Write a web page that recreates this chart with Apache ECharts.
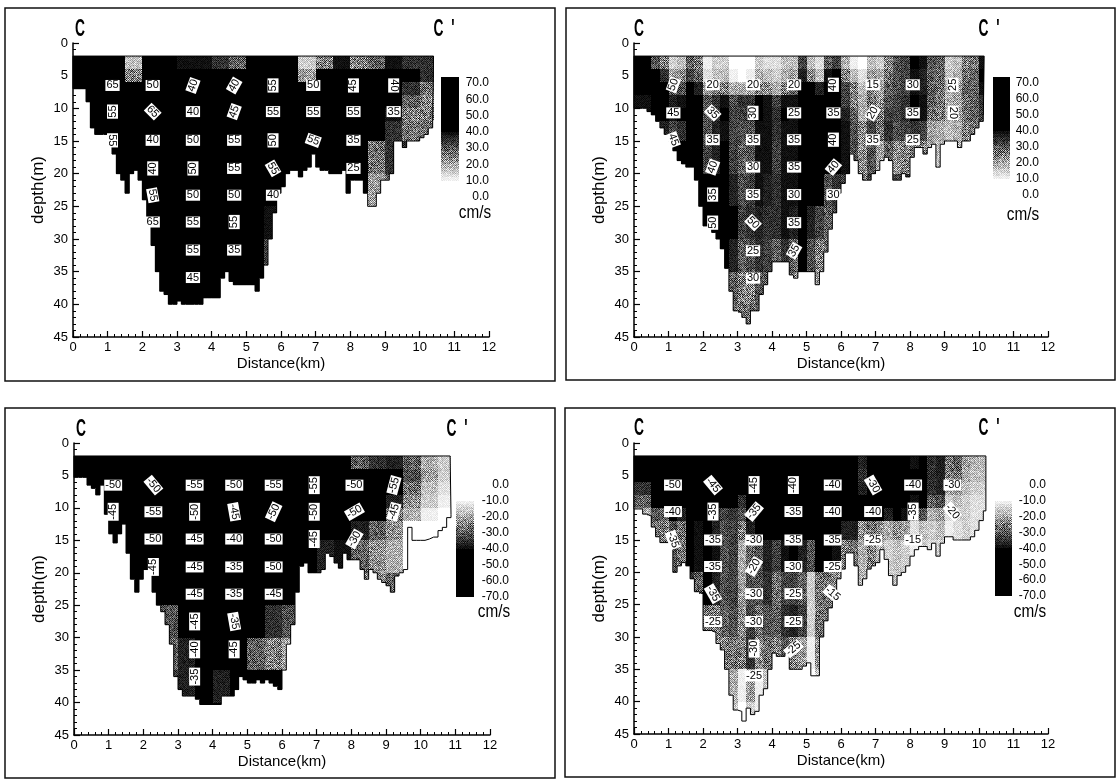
<!DOCTYPE html>
<html><head><meta charset="utf-8">
<style>html,body{margin:0;padding:0;background:#fff}#c{width:1118px;height:780px}</style>
<script src="https://cdn.jsdelivr.net/npm/echarts@6/dist/echarts.min.js"></script>
</head><body><div id="c"></div>
<script>
// ---------- data ----------
const columnStep = 0.125;               // km per bottom sample
const cellStep = 0.5;                   // km per speed cell
const streakStep = 0.25;                // km per vertical streak sample
const rowEdges = [2,4,6,8,10,12,15,20,25,30,35,40,45];  // m

const endA = 10.4, endB = 10.15, endC = 10.85, endD = 10.2;

const bottomA = [7,7,7,9,13,14,14,14, 14,17,20,21,23,20,19.5,21, 24,27,31,35,38,38.5,40,40, 39.5,40,40,40,40,40,39,39,
 39,39,36,35,36.5,37,37,37, 37,37,38,36,34,30,26,23, 22,20,19.5,19.5,20.5,19.5,19,17, 19,19.5,19.5,20,20,20,19.5,23,
 21,21,21,23,25,25,23,21, 21,20,15,15,16,15,15,15, 14.5,14,13,12];
const bottomB = [10,10,10,10.5,11,12,13,14, 15,16.5,18,18.5,19,19,21,25, 28,28,29,30,31.5,34.5,38,41, 41.3,42,43,41,41,38.5,37,35,
 33.5,33.5,33.5,33.5,35.5,36,35,35, 35,35,37,35,32,28.5,26,23, 21.5,20,17,18,20,21,21,20, 19.5,18,17.5,18,21,21,20,20.5,
 17.5,16,16,17,16,15.5,19,15.5, 15,15,15,16,15,15,14,13, 12,11];
const bottomC = [5.3,5.3,5.3,6.5,7,8,6.5,11, 14,15.4,14,12.5,17,21,23,21, 19.5,19.3,23,25,26,28,31,36, 38,39,39,39,39.5,40.3,40.3,40.3,
 40.3,40.3,39,39,39,38,36,36.5, 37,37,36.5,37,36.5,37,37.5,38, 35,31,28,23,19,18.5,20,20, 20,19.5,17,17.5,18.5,19.3,17,18,
 18,18,19.5,21,19.5,20,21,21.5, 22,23,20.5,20,19.5,13,15,15, 15,14.8,14.5,14.5,13.5,13,11.5,11];
const bottomD = [10.2,10.2,11,11.3,13,14.5,15.4,15.4, 15.4,20,19,18.5,19,21,23,23.3, 29,29,29.3,31,32,35,39,41.3, 41.5,43,41,42,41.5,39,38,35,
 32.5,33,33,32.5,35,35,35,34.5, 34,36,36,30,27.5,25.5,23.5,21, 19.5,17,17,19,22,21,19.5,19, 18.5,16.5,18,20.5,22,20.5,20,19,
 17.5,16.5,16,16,16.5,15.5,17.5,15.5, 14.5,14.5,15,15,15,15,14.5,13.5, 12,10.5];

// speed cells (cm/s): one row per depth band, one value per half km
const speedA = [
 [60,60,60,18,50,45,40,40,35,30,45,60,50,15,25,40,25,30,40,35,35],
 [60,60,60,26,60,60,55,60,45,50,60,60,60,22,45,55,55,45,60,45,35],
 [60,60,60,60,60,60,60,60,60,60,60,60,60,60,60,60,60,60,60,35,28],
 [60,60,60,60,60,60,60,60,60,60,60,60,60,60,60,60,60,60,60,30,25],
 [60,60,60,60,60,60,60,60,60,60,60,60,60,60,60,60,60,60,40,25,25],
 [60,60,60,60,60,60,60,60,60,60,60,60,60,60,60,60,60,60,35,28,28],
 [60,60,60,60,60,60,60,60,60,60,60,60,60,60,60,60,45,28,35,35,35],
 [60,60,60,60,60,60,60,60,60,60,60,55,60,60,60,60,45,22,30,30,30],
 [60,60,60,60,60,60,60,60,60,60,60,40,40,40,40,40,40,40,40,40,40],
 [60,60,60,60,60,60,60,60,60,60,60,34,34,34,34,34,34,34,34,34,34],
 [60,60,60,60,60,60,60,60,60,60,45,30,30,30,30,30,30,30,30,30,30],
 [60,60,60,60,60,60,60,60,60,60,60,60,60,60,60,60,60,60,60,60,60]];
const speedB = [
 [45,28,16,20,14,12,12,12,15,18,15,30,18,16,18,30,36,34,20,24,36],
 [50,38,22,24,16,14,15,16,17,22,20,40,24,20,22,30,34,32,22,26,38],
 [45,50,30,32,25,22,25,22,22,30,40,55,32,24,24,30,34,32,24,27,36],
 [40,55,38,36,34,35,40,38,36,40,50,60,32,26,27,32,36,32,24,26,32],
 [40,50,40,36,34,37,39,38,38,40,46,60,36,26,28,32,35,30,24,26,30],
 [40,40,34,37,35,36,36,37,37,39,46,60,37,32,30,29,30,24,22,24,24],
 [40,40,45,50,36,37,35,37,36,39,46,45,37,30,24,22,22,22,22,22,22],
 [40,40,45,50,44,41,37,36,37,39,44,32,32,32,32,32,32,32,32,32,32],
 [40,40,45,50,50,46,39,34,37,37,35,30,30,30,30,30,30,30,30,30,30],
 [40,40,45,50,50,40,35,32,32,30,28,28,28,28,28,28,28,28,28,28,28],
 [40,40,40,40,40,32,30,28,26,26,26,26,26,26,26,26,26,26,26,26,26],
 [40,40,40,40,40,30,32,26,26,26,26,26,26,26,26,26,26,26,26,26,26]];
const speedC = [
 [-60,-60,-60,-60,-60,-60,-60,-60,-60,-60,-60,-60,-60,-60,-60,-60,-30,-35,-38,-30,-20,-16],
 [-60,-60,-60,-60,-60,-60,-60,-60,-60,-60,-60,-60,-60,-60,-60,-60,-60,-55,-60,-32,-22,-16],
 [-60,-60,-60,-60,-60,-60,-60,-60,-60,-60,-60,-60,-60,-60,-60,-60,-60,-60,-55,-28,-18,-14],
 [-60,-60,-60,-60,-60,-60,-60,-60,-60,-60,-60,-60,-60,-60,-60,-60,-60,-60,-38,-24,-16,-12],
 [-60,-60,-60,-60,-60,-60,-60,-60,-60,-60,-60,-60,-60,-60,-60,-60,-60,-55,-28,-20,-12,-10],
 [-60,-60,-60,-60,-60,-60,-60,-60,-60,-60,-60,-60,-60,-60,-60,-50,-38,-30,-24,-10,-10,-10],
 [-60,-60,-60,-60,-60,-60,-60,-60,-60,-60,-60,-60,-60,-60,-38,-40,-30,-24,-20,-10,-10,-10],
 [-60,-60,-60,-60,-60,-60,-60,-60,-60,-60,-60,-60,-60,-60,-60,-60,-25,-24,-30,-10,-10,-10],
 [-60,-60,-60,-60,-60,-32,-50,-60,-60,-60,-45,-35,-32,-30,-30,-30,-30,-30,-30,-30,-30,-30],
 [-60,-60,-60,-60,-60,-30,-38,-50,-50,-42,-30,-26,-22,-22,-22,-22,-22,-22,-22,-22,-22,-22],
 [-60,-60,-60,-60,-60,-35,-38,-45,-38,-50,-50,-45,-45,-45,-45,-45,-45,-45,-45,-45,-45,-45],
 [-60,-60,-60,-60,-60,-60,-60,-60,-60,-60,-60,-60,-60,-60,-60,-60,-60,-60,-60,-60,-60,-60]];
const speedD = [
 [-60,-60,-55,-50,-55,-55,-60,-60,-60,-60,-60,-55,-45,-40,-45,-50,-42,-35,-30,-20,-16],
 [-55,-60,-58,-48,-60,-55,-60,-60,-60,-60,-60,-52,-45,-38,-45,-60,-50,-36,-28,-18,-15],
 [-35,-60,-60,-50,-60,-55,-60,-60,-60,-60,-60,-55,-50,-40,-50,-60,-50,-35,-24,-15,-13],
 [-30,-55,-55,-50,-42,-45,-45,-58,-60,-55,-60,-60,-55,-48,-55,-60,-42,-30,-18,-14,-12],
 [-20,-30,-40,-55,-38,-32,-40,-50,-60,-50,-60,-60,-55,-45,-40,-38,-30,-20,-16,-14,-12],
 [-20,-25,-30,-45,-38,-30,-35,-45,-50,-45,-50,-50,-35,-25,-22,-20,-16,-15,-14,-13,-12],
 [-20,-25,-30,-45,-40,-30,-28,-35,-38,-38,-40,-42,-24,-22,-18,-14,-14,-14,-14,-14,-14],
 [-20,-25,-30,-35,-38,-30,-30,-34,-32,-30,-25,-25,-24,-22,-18,-14,-14,-14,-14,-14,-14],
 [-20,-25,-30,-35,-25,-28,-32,-30,-34,-34,-25,-25,-24,-22,-18,-14,-14,-14,-14,-14,-14],
 [-20,-25,-30,-35,-25,-24,-34,-26,-30,-22,-20,-20,-20,-20,-18,-14,-14,-14,-14,-14,-14],
 [-20,-25,-30,-35,-25,-16,-20,-15,-15,-15,-15,-15,-15,-15,-15,-14,-14,-14,-14,-14,-14],
 [-20,-25,-30,-35,-25,-14,-14,-14,-14,-14,-14,-14,-14,-14,-14,-14,-14,-14,-14,-14,-14]];

// vertical ensemble streaks seen in the section, change in speed magnitude per quarter km
const streakA = [];
const streakB = [0,0,3,-2,0,2,10,5,-3,2,4,-3,-5,-4,3,2,-2,3,0,16,3,-2,0,4,2,-6,-6,2,-3,5,2,4,6,4,-2,-4,-4,-2,2,3,4];
const streakC = [];
const streakD = [0,0,2,0,2,-2,0,-6,3,0,2,3,-9,2,-3,2,-4,2,3,0,-9,3,2,-2,2,3,-2,3,2,-2,3,2,-2,2,0,2,-2,0,2,0,2];

// contour labels: [distance km, depth m, text]; matching turn (degrees) in the *Turn arrays
const labelsA = [[1.14,6.5,'65'],[2.3,6.5,'50'],[3.46,6.5,'40'],[4.65,6.5,'40'],[5.77,6.5,'55'],[6.93,6.5,'50'],[8.09,6.5,'45'],[9.25,6.5,'40'],
 [1.14,10.5,'55'],[2.3,10.5,'65'],[3.46,10.5,'40'],[4.65,10.5,'45'],[5.77,10.5,'55'],[6.93,10.5,'55'],[8.09,10.5,'55'],[9.25,10.5,'35'],
 [1.14,14.9,'55'],[2.3,14.9,'40'],[3.46,14.9,'50'],[4.65,14.9,'55'],[5.77,14.9,'50'],[6.93,14.9,'55'],[8.09,14.9,'35'],
 [2.3,19.2,'40'],[3.46,19.2,'50'],[4.65,19.2,'55'],[5.77,19.2,'55'],[8.09,19.2,'25'],
 [2.3,23.3,'55'],[3.46,23.3,'50'],[4.65,23.3,'50'],[5.77,23.3,'40'],
 [2.3,27.4,'65'],[3.46,27.4,'55'],[4.65,27.4,'55'],[3.46,31.7,'55'],[4.65,31.7,'35'],[3.46,35.9,'45']];
const labelsATurn = [0,0,70,60,90,0,90,-90, 90,-45,0,70,0,0,0,0, -90,0,0,0,90,-20,0, 90,90,0,-60,0, -80,0,0,0, 0,0,90,0,0,0];
const labelsB = [[1.14,6.4,'50'],[2.28,6.4,'20'],[3.45,6.4,'20'],[4.64,6.4,'20'],[5.78,6.4,'40'],[6.92,6.4,'15'],[8.08,6.4,'30'],[9.25,6.4,'25'],
 [1.14,10.7,'45'],[2.28,10.7,'35'],[3.45,10.7,'30'],[4.64,10.7,'25'],[5.78,10.7,'35'],[6.92,10.7,'20'],[8.08,10.7,'35'],[9.25,10.7,'20'],
 [1.14,14.8,'45'],[2.28,14.8,'35'],[3.45,14.8,'35'],[4.64,14.8,'35'],[5.78,14.8,'40'],[6.92,14.8,'35'],[8.08,14.8,'25'],
 [2.28,19,'40'],[3.45,19,'30'],[4.64,19,'35'],[5.78,19,'40'],
 [2.28,23.2,'35'],[3.45,23.2,'35'],[4.64,23.2,'30'],[5.78,23.2,'30'],
 [2.28,27.5,'50'],[3.45,27.5,'50'],[4.64,27.5,'35'],[3.45,31.8,'25'],[4.64,31.8,'35'],[3.45,36,'30']];
const labelsBTurn = [70,0,0,0,90,0,0,90, 0,-45,90,0,0,60,0,-90, -70,0,0,0,90,0,0, 70,0,0,50, 90,0,0,0, 90,-45,0,0,60,0];
const labelsC = [[1.13,6.5,'-50'],[2.29,6.5,'-50'],[3.48,6.5,'-55'],[4.62,6.5,'-50'],[5.76,6.5,'-55'],[6.93,6.5,'-55'],[8.09,6.5,'-50'],[9.23,6.5,'-55'],
 [1.13,10.6,'-45'],[2.29,10.6,'-55'],[3.48,10.6,'-50'],[4.62,10.6,'-45'],[5.76,10.6,'-50'],[6.93,10.6,'-50'],[8.09,10.6,'-50'],[9.23,10.6,'-45'],
 [2.29,14.8,'-50'],[3.48,14.8,'-45'],[4.62,14.8,'-40'],[5.76,14.8,'-50'],[6.93,14.8,'-45'],[8.09,14.8,'-30'],
 [2.29,19.1,'-45'],[3.48,19.1,'-45'],[4.62,19.1,'-35'],[5.76,19.1,'-50'],
 [3.48,23.3,'-45'],[4.62,23.3,'-35'],[5.76,23.3,'-45'],[3.48,27.5,'-45'],[4.62,27.5,'-35'],[3.48,31.8,'-40'],[4.62,31.8,'-45'],[3.48,36,'-35']];
const labelsCTurn = [0,-50,0,0,0,90,0,75, 90,0,90,-80,65,90,30,75, 0,0,0,0,90,60, 90,0,0,0, 0,0,0,90,-80,90,90,90];
const labelsD = [[1.13,6.5,'-50'],[2.29,6.5,'-45'],[3.48,6.5,'-45'],[4.62,6.5,'-40'],[5.76,6.5,'-40'],[6.93,6.5,'-30'],[8.09,6.5,'-40'],[9.23,6.5,'-30'],
 [1.13,10.6,'-40'],[2.29,10.6,'-35'],[3.48,10.6,'-35'],[4.62,10.6,'-35'],[5.76,10.6,'-40'],[6.93,10.6,'-40'],[8.09,10.6,'-35'],[9.23,10.6,'-20'],
 [1.13,15,'-35'],[2.29,15,'-35'],[3.48,15,'-30'],[4.62,15,'-35'],[5.76,15,'-35'],[6.93,15,'-25'],[8.09,15,'-15'],
 [2.29,19.1,'-35'],[3.48,19.1,'-20'],[4.62,19.1,'-30'],[5.76,19.1,'-25'],
 [2.29,23.3,'-35'],[3.48,23.3,'-30'],[4.62,23.3,'-25'],[5.76,23.3,'-15'],
 [2.29,27.6,'-25'],[3.48,27.6,'-30'],[4.62,27.6,'-25'],[3.48,31.8,'-30'],[4.62,31.8,'-25'],[3.48,36,'-25']];
const labelsDTurn = [0,-50,90,90,0,-60,0,0, 0,90,50,0,0,0,90,-50, -70,0,0,0,0,0,0, 0,60,0,0, -60,0,0,-40, 0,0,0,90,40,0];

const depthTicks = [0,45], distanceTicks = [0,12];
const scaleA = [0,73.7], scaleC = [-70,0];
const scaleUnit = 'cm/s';

// ---------- layout ----------
const panels = [
 {bottom:bottomA,end:endA,speed:speedA,streak:streakA,labels:labelsA,turn:labelsATurn,l:73,r:489,t:43,b:337,
  bar:{l:441,r:459,t:77,b:197,range:scaleA,m:30},frame:[5,8,550,373],c:[80,30],c2:[444,30],u:[475,213]},
 {bottom:bottomB,end:endB,speed:speedB,streak:streakB,labels:labelsB,turn:labelsBTurn,l:634,r:1048,t:43,b:337,
  bar:{l:993,r:1010,t:77,b:195,range:scaleA,m:29},frame:[566,8,549,372],c:[639,30],c2:[989,30],u:[1023,215]},
 {bottom:bottomC,end:endC,speed:speedC,streak:streakC,labels:labelsC,turn:labelsCTurn,l:74,r:490,t:443,b:735,
  bar:{l:456,r:474,t:485,b:597,range:scaleC,m:35},frame:[5,408,550,370],c:[81,430],c2:[457,430],u:[494,612]},
 {bottom:bottomD,end:endD,speed:speedD,streak:streakD,labels:labelsD,turn:labelsDTurn,l:634,r:1048,t:443,b:734,
  bar:{l:995,r:1012,t:485,b:596,range:scaleC,m:34},frame:[565,408,550,369],c:[639,429],c2:[989,429],u:[1030,612]}
];
const FONT = '"Liberation Sans",sans-serif';

// halftone screen: fine grey stipple like the scanned print
const SCREEN = 64;
const grain = [];
for (let y=0;y<SCREEN;y++){ const row=[];
  for (let x=0;x<SCREEN;x++){ let h=(x*73856093 ^ y*19349663 ^ (x*y*83492791))>>>0; h=(h^(h>>>13))*1274126177>>>0; row.push(((h>>>8)%1000)/1000-0.5); }
  grain.push(row);
}
const fills = [];
for (let lv=0; lv<=16; lv++){
  const cv=document.createElement('canvas'); cv.width=cv.height=SCREEN;
  const g=cv.getContext('2d');
  const d=lv/16;
  for(let y=0;y<SCREEN;y++)for(let x=0;x<SCREEN;x++){
    const check=((x+y)%2?1:-1)*0.22;
    const amp=Math.min(d,1-d)*2;
    const t=Math.max(0,Math.min(1,1-d+amp*(check+grain[y][x]*0.55)));
    const c=Math.round(t*255);
    g.fillStyle='rgb('+c+','+c+','+c+')'; g.fillRect(x,y,1,1);
  }
  fills.push({image:cv,repeat:'repeat'});
}
function shade(v){
  const a=Math.abs(v);
  const d=Math.max(0,Math.min(1,(a-10)/32));
  return fills[Math.round(d*16)];
}
function cellRender(){ return function(params,api){
  const p0=api.coord([api.value(0),api.value(2)]), p1=api.coord([api.value(1),api.value(3)]);
  const x0=Math.round(p0[0]),x1=Math.round(p1[0]),y0=Math.round(p0[1]),y1=Math.round(p1[1]);
  return {type:'rect',shape:{x:x0,y:y0,width:x1-x0,height:y1-y0},style:{fill:shade(api.value(4))},silent:true};
};}

const grid=[],xAxis=[],yAxis=[],series=[],graphic=[];
panels.forEach((p,i)=>{
  const gi=grid.length;
  grid.push({left:p.l,top:p.t,width:p.r-p.l,height:p.b-p.t,containLabel:false});
  xAxis.push({gridIndex:gi,type:'value',min:distanceTicks[0],max:distanceTicks[1],interval:1,name:'Distance(km)',nameLocation:'middle',nameGap:19,
    nameTextStyle:{fontFamily:FONT,fontSize:15,color:'#000'},
    axisLine:{show:true,onZero:false,lineStyle:{color:'#000',width:1.5}},
    axisTick:{show:true,inside:true,length:6,lineStyle:{color:'#000',width:1.2}},
    minorTick:{show:true,splitNumber:5,length:3,lineStyle:{color:'#000',width:1}},
    axisLabel:{fontFamily:FONT,fontSize:13,color:'#000',margin:4},splitLine:{show:false}});
  yAxis.push({gridIndex:gi,type:'value',inverse:true,min:depthTicks[0],max:depthTicks[1],interval:5,name:'depth(m)',nameLocation:'middle',nameGap:26,nameRotate:90,
    nameTextStyle:{fontFamily:FONT,fontSize:17,color:'#000'},
    axisLine:{show:true,onZero:false,lineStyle:{color:'#000',width:1.5}},
    axisTick:{show:true,inside:true,length:6,lineStyle:{color:'#000',width:1.2}},
    minorTick:{show:true,splitNumber:5,length:3,lineStyle:{color:'#000',width:1}},
    axisLabel:{fontFamily:FONT,fontSize:13,color:'#000',margin:5},splitLine:{show:false}});
  // speed cells clipped at the river bed
  const cells=[];
  p.bottom.forEach((bed,k)=>{
    const x0=k*columnStep, x1=Math.min(p.end,x0+columnStep);
    const ci=Math.floor(x0/cellStep+1e-6);
    const si=Math.floor(x0/streakStep+1e-6);
    const extra=p.streak[si]||0;
    for(let r=0;r<rowEdges.length-1;r++){
      if(rowEdges[r]>=bed) break;
      cells.push([x0,x1,rowEdges[r],Math.min(bed,rowEdges[r+1]),Math.abs(p.speed[r][ci])+extra]);
    }
  });
  series.push({type:'custom',xAxisIndex:gi,yAxisIndex:gi,coordinateSystem:'cartesian2d',renderItem:cellRender(),data:cells,clip:false,silent:true,animation:false,
    encode:{x:[0,1],y:[2,3]},z:2});
  // outline of the section
  const outline=[[0,rowEdges[0]]];
  p.bottom.forEach((bed,k)=>outline.push([k*columnStep,bed]));
  outline.push([p.end,p.bottom[p.bottom.length-1]],[p.end,rowEdges[0]],[0,rowEdges[0]]);
  series.push({type:'line',xAxisIndex:gi,yAxisIndex:gi,data:outline,step:'end',showSymbol:false,silent:true,animation:false,
    lineStyle:{color:'#000',width:1},z:3});
  // contour labels
  series.push({type:'scatter',xAxisIndex:gi,yAxisIndex:gi,symbolSize:1,silent:true,animation:false,z:5,itemStyle:{color:'transparent',opacity:1},
    data:p.labels.map((L,k)=>({value:[L[0],L[1]],name:L[2],label:{rotate:p.turn[k]}})),
    label:{show:true,opacity:1,position:'inside',formatter:d=>d.name,fontFamily:FONT,fontSize:11,color:'#000',backgroundColor:'#fff',padding:[1,1,0,1],lineHeight:10}});

  // colour bar
  const b=p.bar, bi=grid.length;
  grid.push({left:b.l,top:b.t,width:b.r-b.l,height:b.b-b.t});
  xAxis.push({gridIndex:bi,type:'value',min:0,max:1,show:false});
  yAxis.push({gridIndex:bi,type:'value',min:b.range[0],max:b.range[1],interval:10,position:'right',
    axisLine:{show:false},axisTick:{show:false},splitLine:{show:false},
    axisLabel:{showMaxLabel:true,fontFamily:FONT,fontSize:12,color:'#000',margin:b.m,align:'right',
      formatter:v=>(Math.abs(v)>70.01||(v%10!==0))?'':v.toFixed(1)}});
  const ramp=[];
  for(let v=b.range[0]; v<b.range[1]-1e-6; v+=2) ramp.push([0,1,v,Math.min(v+2,b.range[1]),v+1]);
  series.push({type:'custom',xAxisIndex:bi,yAxisIndex:bi,renderItem:cellRender(),data:ramp,clip:false,silent:true,animation:false,encode:{x:[0,1],y:[2,3]},z:2});

  // frame and captions
  graphic.push({type:'rect',shape:{x:p.frame[0],y:p.frame[1],width:p.frame[2],height:p.frame[3]},style:{fill:'none',stroke:'#111',lineWidth:1.5},silent:true,z:0});
  graphic.push({type:'text',x:p.c[0],y:p.c[1],scaleX:0.6,style:{text:'C',font:'bold 23px '+FONT,fill:'#000',textAlign:'center',textVerticalAlign:'middle'},silent:true});
  graphic.push({type:'text',x:p.c2[0],y:p.c2[1],scaleX:0.6,style:{text:"C  '",font:'bold 23px '+FONT,fill:'#000',textAlign:'center',textVerticalAlign:'middle'},silent:true});
  graphic.push({type:'text',x:p.u[0],y:p.u[1],scaleX:0.85,style:{text:scaleUnit,font:'18px '+FONT,fill:'#000',textAlign:'center',textVerticalAlign:'middle'},silent:true});
});

const chart=echarts.init(document.getElementById('c'),null,{renderer:'canvas'});
chart.setOption({backgroundColor:'#fff',animation:false,grid,xAxis,yAxis,series,graphic:{elements:graphic},tooltip:{show:false}});
</script></body></html>
